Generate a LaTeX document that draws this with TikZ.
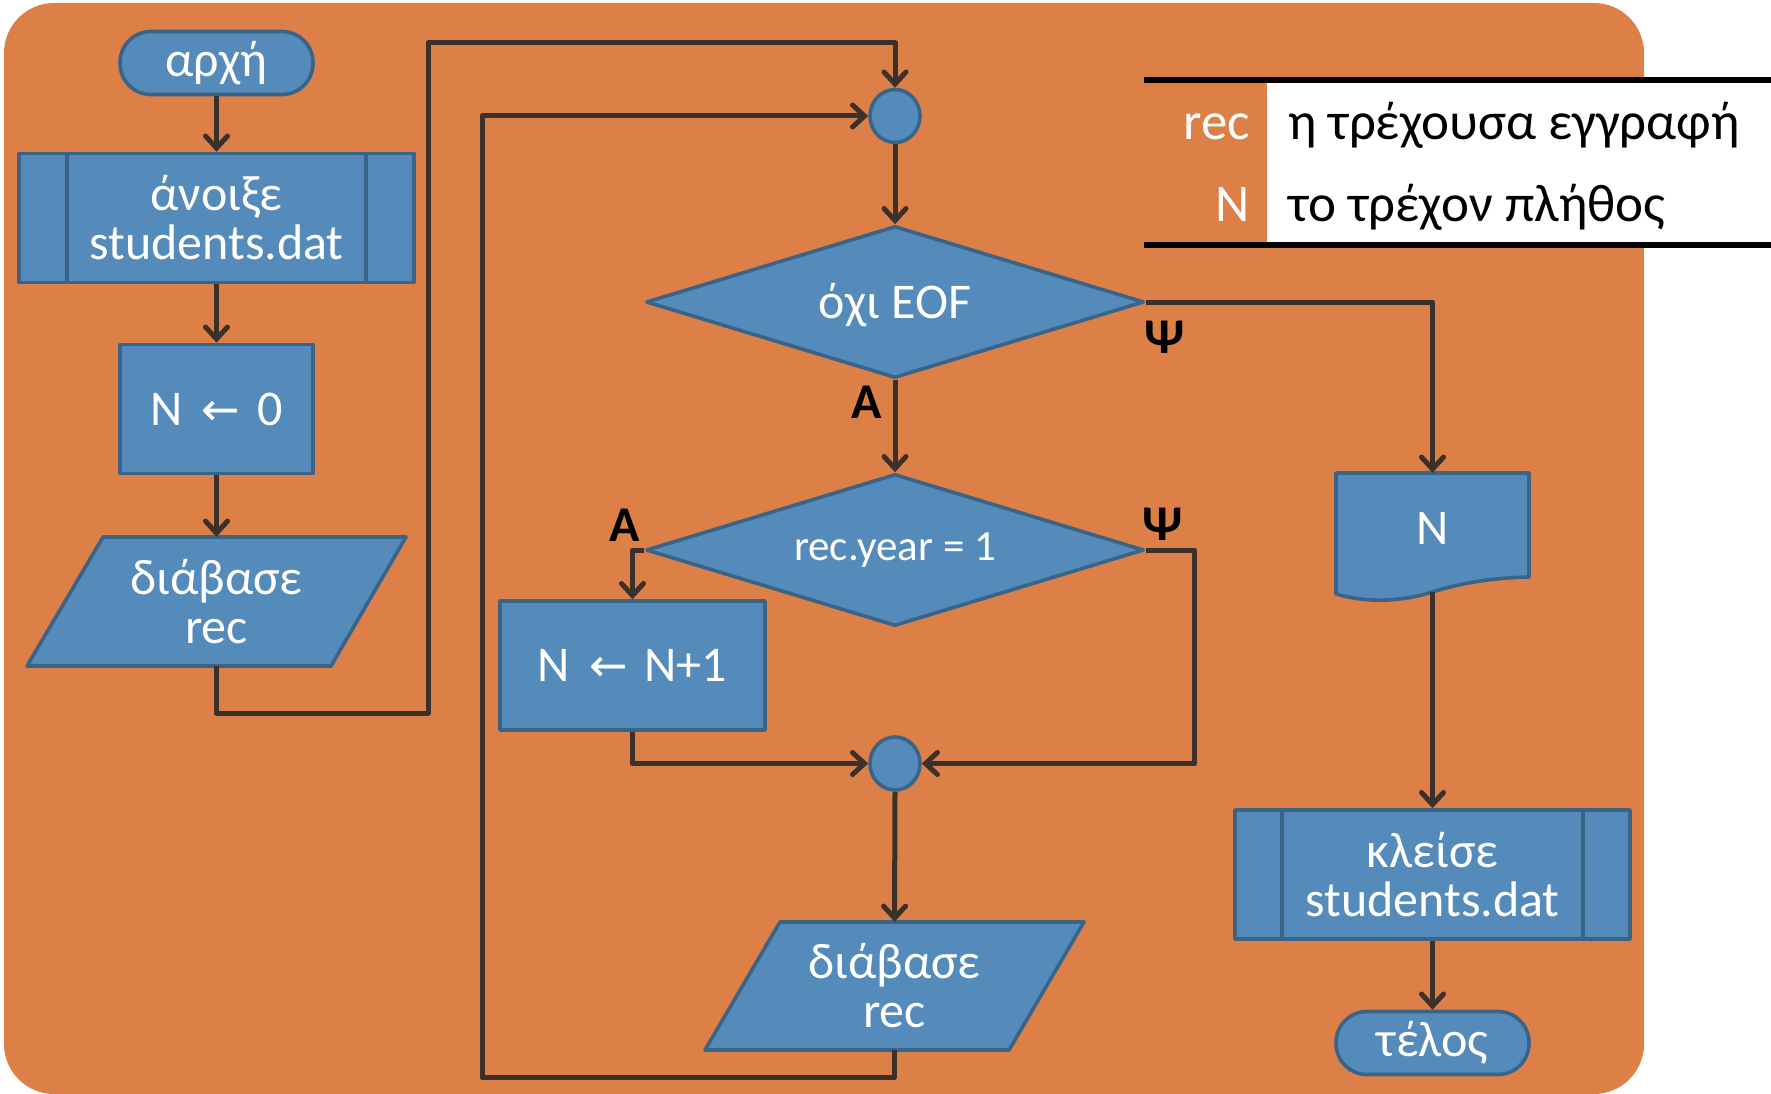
\documentclass[tikz,border=0pt]{standalone}
\usepackage{fontspec}
\setmainfont{Carlito}
\newfontfamily\arrfont{DejaVu Sans}
\usetikzlibrary{arrows.meta,shapes.geometric,calc}
\definecolor{bgor}{RGB}{221,128,72}
\definecolor{nfill}{RGB}{85,139,186}
\definecolor{nbdr}{RGB}{58,99,136}
\definecolor{lnc}{RGB}{59,48,42}
\newcommand\fsz[2]{\fontsize{#1}{#2}\selectfont}
\newcommand\larr{\hspace{19pt}{\arrfont\fsz{46}{46}←}\hspace{17pt}}
\begin{document}
\begin{tikzpicture}[x=1pt,y=-1pt,
  shp/.style={draw=nbdr, fill=nfill, line width=3.6pt, line join=round},
  txt/.style={text=white, inner sep=0pt, align=center, font=\fsz{50}{49}},
  term/.style={shp, txt, rounded corners=31pt, minimum width=193pt, minimum height=63pt},
  proc/.style={shp, txt, minimum width=193pt, minimum height=129pt},
  pred/.style={shp, txt, minimum width=395pt, minimum height=129pt},
  dec/.style={shp, txt, diamond, aspect=3.28, minimum width=498pt, minimum height=152pt},
  conn/.style={shp, ellipse, minimum width=50pt, minimum height=53pt, inner sep=0pt},
  ghost/.style={txt, minimum width=190pt, minimum height=120pt},
  arr/.style={draw=lnc, line width=5pt, line join=round, -{Straight Barb[length=12pt,width=22pt,line cap=round]}},
  lbl/.style={text=black, inner sep=0pt, font=\fsz{50}{50}\bfseries},
  inner/.style={draw=nbdr, line width=3.6pt}
]
\useasboundingbox (0,0) rectangle (1771,1094);
\fill[bgor, rounded corners=50pt] (4,3) rectangle (1644,1094);

% legend
\fill[white] (1267,80) rectangle (1771,245);
\draw[black, line width=6pt] (1144,80) -- (1771,80);
\draw[black, line width=6pt] (1144,245) -- (1771,245);
\node[anchor=base east, text=white, inner sep=0pt, font=\fsz{53}{53}] (lg1) at (1250,140) {rec};
\node[anchor=base east, text=white, inner sep=0pt, font=\fsz{53}{53}] (lg2) at (1250,222) {N};
\node[anchor=base west, text=black, inner sep=0pt, font=\fsz{53}{53}] (lg3) at (1288,140) {η τρέχουσα εγγραφή};
\node[anchor=base west, text=black, inner sep=0pt, font=\fsz{53}{53}] (lg4) at (1288,222) {το τρέχον πλήθος};

% left column
\node[term] (start) at (216.5,63) {αρχή};
\node[pred] (open) at (216.5,218) {άνοιξε\\students.dat};
\draw[inner] ([xshift=50pt]open.north west) -- ([xshift=50pt]open.south west);
\draw[inner] ([xshift=-50pt]open.north east) -- ([xshift=-50pt]open.south east);
\node[proc] (n0) at (216.5,409) {N\larr 0};
\draw[shp] (103,537) -- (406,537) -- (331,666) -- (27,666) -- cycle;
\node[ghost, minimum height=129pt] (read1) at (216.5,601.5) {διάβασε\\rec};

% middle column
\node[conn] (c1) at (895,116) {};
\node[dec, label={[txt, yshift=-3pt]center:όχι EOF}] (d1) at (895,302) {};
\node[dec, font=\fsz{43}{43}] (d2) at (895,550) {rec.year = 1};
\node[proc, minimum width=265pt] (inc) at (632.5,665.5) {N\larr N+1};
\node[conn] (c2) at (895,763.5) {};
\draw[shp] (780,922) -- (1084,922) -- (1009,1050) -- (705,1050) -- cycle;
\node[ghost, minimum height=128pt] (read2) at (894.5,986) {διάβασε\\rec};

% right column
\draw[shp] (1336,473) -- (1529,473) -- (1529,577) .. controls (1490,578) and (1462,583) .. (1432,592) .. controls (1398,603) and (1362,602) .. (1336,594) -- cycle;
\node[ghost, minimum width=193pt, minimum height=119pt, label={[txt, yshift=4pt]center:N}] (doc) at (1432.5,532.5) {};
\node[pred] (close) at (1432.5,874.5) {κλείσε\\students.dat};
\draw[inner] ([xshift=49pt]close.north west) -- ([xshift=49pt]close.south west);
\draw[inner] ([xshift=-49pt]close.north east) -- ([xshift=-49pt]close.south east);
\node[term] (end) at (1432.5,1043) {τέλος};

% connectors
\draw[arr] (start.south) -- (open.north);
\draw[arr] (open.south) -- (n0.north);
\draw[arr] (n0.south) -- (read1.north);
\draw[arr] (read1.south) -- ++(0,47) -| (428,43) -| (c1.north);
\draw[arr] (c1.south) -- (d1.north);
\draw[arr] (d1.south) -- (d2.north);
\draw[arr] (d1.east) -| (doc.north);
\draw[arr] (d2.west) -| (inc.north);
\draw[arr] (d2.east) -- ++(49,0) |- (c2.east);
\draw[arr] (inc.south) |- (c2.west);
\draw[arr] (c2.south) -- (read2.north);
\draw[arr] (read2.south) -- ++(0,27) -| (482,116) -- (c1.west);
\draw[arr] (doc.south) -- (close.north);
\draw[arr] (close.south) -- (end.north);

% branch labels
\node[lbl] (la1) at (867,402) {A};
\node[lbl] (lp1) at (1165,337) {Ψ};
\node[lbl] (la2) at (625,525) {A};
\node[lbl] (lp2) at (1163,524) {Ψ};
\end{tikzpicture}
\end{document}
